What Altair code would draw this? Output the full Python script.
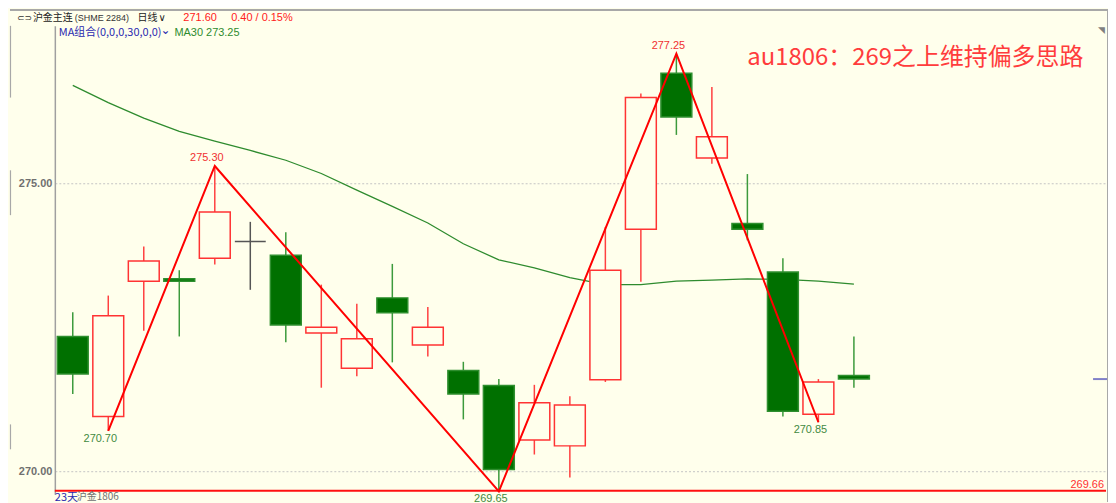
import altair as alt
import pandas as pd

# ---- data ----
idx = list(range(23))
opens = [272.34, 270.95, 273.30, 273.34, 273.70, 273.99, 273.75, 272.40, 271.79, 273.01, 272.19, 271.75,
         271.49, 270.54, 270.44, 271.59, 274.20, 276.91, 275.44, 274.30, 273.46, 270.99, 271.66]
highs = [272.76, 273.05, 273.90, 273.49, 275.30, 274.33, 274.15, 273.24, 272.91, 273.60, 272.85, 271.90,
         271.60, 271.50, 271.30, 274.24, 276.56, 277.25, 276.67, 275.16, 273.70, 271.60, 272.34]
lows = [271.34, 270.70, 272.44, 272.34, 273.59, 273.15, 272.24, 271.45, 271.65, 271.89, 271.99, 270.90,
        269.65, 270.29, 269.89, 271.55, 273.29, 275.84, 275.34, 274.01, 270.95, 270.85, 271.45]
closes = [271.69, 272.70, 273.65, 273.30, 274.50, 273.99, 272.54, 272.50, 272.30, 272.75, 272.50, 271.34,
          270.03, 271.19, 271.15, 273.49, 276.49, 276.15, 275.81, 274.20, 271.04, 271.55, 271.60]
ma30 = [276.70, 276.40, 276.13, 275.90, 275.73, 275.57, 275.40, 275.17, 274.88, 274.60, 274.31, 273.95,
        273.67, 273.53, 273.36, 273.24, 273.24, 273.30, 273.32, 273.34, 273.33, 273.30, 273.25]
zz_idx = [1, 4, 12, 17, 21]
zz_val = [270.70, 275.30, 269.65, 277.25, 270.85]
zz_pos = ["low", "high", "low", "high", "low"]
support = [269.66]
last_price = [271.60]
y_ticks = [270, 275]

BG = "#FFFFEC"
W, H = 1055, 470

kind = ["up" if c > o else ("down" if c < o else "flat") for o, c in zip(opens, closes)]
df = pd.DataFrame(dict(i=idx, o=opens, h=highs, l=lows, c=closes, ma=ma30, kind=kind))
zz = pd.DataFrame(dict(i=zz_idx, v=zz_val, pos=zz_pos))
sup = pd.DataFrame(dict(v=support))
lp = pd.DataFrame(dict(v=last_price))

xs = alt.Scale(domain=[-0.505, 29.10], nice=False, zero=False, padding=0)
ys = alt.Scale(domain=[269.602, 277.734], nice=False, zero=False, padding=0)
X = alt.X("i:Q", scale=xs, axis=None)

yaxis = alt.Axis(values=y_ticks, format=".2f", title=None, ticks=False, labelColor="#707070",
                 labelFont="Liberation Sans", labelFontSize=11, labelFontWeight="bold", labelPadding=3,
                 domainColor="#A0A0A0", domainWidth=1.5, grid=True, gridColor="#C4C4C4",
                 gridDash=[2, 2], gridWidth=1)


def Y(field):
    return alt.Y(field, scale=ys, axis=yaxis)


kinds = ["up", "down", "flat"]
wick_scale = alt.Scale(domain=kinds, range=["#FF4040", "#3C9A3C", "#555555"])
stroke_scale = alt.Scale(domain=kinds, range=["#FF3333", "#2F8F2F", "#555555"])
fill_scale = alt.Scale(domain=kinds, range=[BG, "#007000", "#555555"])

support_line = alt.Chart(sup).mark_rule(color="#FF1010", strokeWidth=2).encode(y=Y("v:Q"))

ma_line = alt.Chart(df).mark_line(color="#2E8B2E", strokeWidth=1.3).encode(x=X, y=Y("ma:Q"))

wicks = alt.Chart(df).mark_rule(strokeWidth=1.5).encode(
    x=X, y=Y("l:Q"), y2="h:Q",
    color=alt.Color("kind:N", scale=wick_scale, legend=None))

bodies = alt.Chart(df).mark_bar(size=31, strokeWidth=1.5).encode(
    x=X, y=Y("o:Q"), y2="c:Q",
    fill=alt.Fill("kind:N", scale=fill_scale, legend=None),
    stroke=alt.Stroke("kind:N", scale=stroke_scale, legend=None))

zig = alt.Chart(zz).mark_line(color="#FF0000", strokeWidth=2).encode(
    x=X, y=Y("v:Q"), order="i:Q")

zz_hi = alt.Chart(zz).transform_filter(alt.datum.pos == "high").mark_text(
    color="#F03030", fontSize=11, font="Liberation Sans", baseline="bottom", dy=-3, dx=-8).encode(
    x=X, y=Y("v:Q"), text=alt.Text("v:Q", format=".2f"))
zz_lo = alt.Chart(zz).transform_filter(alt.datum.pos == "low").mark_text(
    color="#3F8A3F", fontSize=11, font="Liberation Sans", baseline="top", dy=2, dx=-8).encode(
    x=X, y=Y("v:Q"), text=alt.Text("v:Q", format=".2f"))

sup_label = alt.Chart(sup).mark_text(color="#FF3030", fontSize=11, font="Liberation Sans",
                                     align="right", baseline="bottom", dy=-1).encode(
    x=alt.value(1053), y=Y("v:Q"), text=alt.Text("v:Q", format=".2f"))

lp_mark = alt.Chart(lp).mark_rule(color="#8080C8", strokeWidth=2).encode(
    x=alt.value(1042), x2=alt.value(1057), y=Y("v:Q"))


def label(text, x, y, color, size, font="Noto Sans CJK SC", align="left", weight="normal", baseline="middle"):
    return alt.Chart(pd.DataFrame({"t": [text]})).mark_text(
        align=align, baseline=baseline, color=color, fontSize=size, font=font, fontWeight=weight).encode(
        x=alt.value(x), y=alt.value(y), text="t:N")


texts = [
    label("⊂⊃", -38, -8, "#333333", 9, font="DejaVu Sans"),
    label("沪金主连", -22, -8, "#222222", 10),
    label("(SHME 2284)", 20, -8, "#333333", 9, font="Liberation Sans"),
    label("日线", 83, -8, "#222222", 10),
    label("∨", 104, -8, "#222222", 10, font="DejaVu Sans"),
    label("271.60", 129, -8, "#FF2020", 11, font="Liberation Sans"),
    label("0.40 / 0.15%", 177, -8, "#FF2020", 11, font="Liberation Sans"),
    label("MA组合(0,0,0,30,0,0)", 4, 7, "#2A2AB0", 11),
    label("⌄", 106, 4, "#2A2AB0", 12, font="DejaVu Sans"),
    label("MA30 273.25", 120, 7, "#2E8B2E", 11, font="Liberation Sans"),
    label("au1806：269之上维持偏多思路", 695, 32, "#FF3C3C", 24),
    label("23天", 0, 468, "#2A2AB0", 11, baseline="top"),
    label("沪金1806", 22, 468, "#707070", 10, baseline="top"),
    label("◥", 1054, 4, "#808080", 9, font="DejaVu Sans", align="right"),
]

frame_top = alt.Chart(pd.DataFrame({"t": [0]})).mark_rule(color="#A8A8A8", strokeWidth=2).encode(
    x=alt.value(-45), x2=alt.value(1057), y=alt.value(-16))
frame_right = alt.Chart(pd.DataFrame({"t": [0]})).mark_rule(color="#A8A8A8", strokeWidth=2).encode(
    x=alt.value(1057), y=alt.value(-16), y2=alt.value(H + 8))
left_a = alt.Chart(pd.DataFrame({"t": [0]})).mark_rule(color="#A8A8A8", strokeWidth=1.2).encode(
    x=alt.value(-44.5), y=alt.value(0), y2=alt.value(72))
left_b = alt.Chart(pd.DataFrame({"t": [0]})).mark_rule(color="#A8A8A8", strokeWidth=1.2).encode(
    x=alt.value(-44.5), y=alt.value(145), y2=alt.value(190))
left_c = alt.Chart(pd.DataFrame({"t": [0]})).mark_rule(color="#A8A8A8", strokeWidth=1.2).encode(
    x=alt.value(-44.5), y=alt.value(400), y2=alt.value(425))

chart = alt.layer(
    support_line, ma_line, wicks, bodies, zig, zz_hi, zz_lo, sup_label, lp_mark,
    *texts, frame_top, frame_right, left_a, left_b, left_c
).properties(
    width=W, height=H,
    autosize=alt.AutoSizeParams(type="none"),
    padding={"left": 47, "top": 17, "right": 2, "bottom": 8},
).configure(background=BG).configure_view(stroke=None)

chart.save("out.html", embed_options={"renderer": "svg", "actions": False})
